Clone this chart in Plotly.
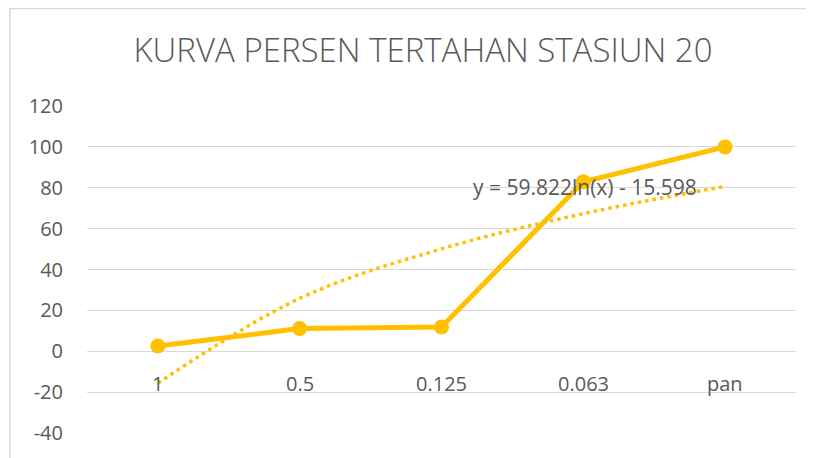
import plotly.graph_objects as go

categories = ["1", "0.5", "0.125", "0.063", "pan"]
persen_tertahan = [2.6, 11.1, 11.9, 82.9, 100]
trend_values = [-15.6, 25.9, 50.1, 67.3, 80.7]
y_ticks = [-40, -20, 0, 20, 40, 60, 80, 100, 120]
y_tick_labels = ["-40", "-20", "0", "20", "40", "60", "80", "100", "120"]
title_text = "KURVA PERSEN TERTAHAN STASIUN 20"
equation_text = "y = 59.822ln(x) - 15.598"

GOLD = "#FFC000"
TXT = "#595959"
GRID = "#D9D9D9"
FONT = "Open Sans"

# The page adds an 8px body margin, so the figure is sized to fill the rest.
OFF = 8
W, H = 814 - OFF, 458 - OFF
L, R, T, B = 87 - OFF, 18, 106 - OFF, 25.3
pw = W - L - R
ph = H - T - B

fig = go.Figure()
fig.add_trace(go.Scatter(
    x=categories, y=persen_tertahan, mode="lines+markers",
    line=dict(color=GOLD, width=5),
    marker=dict(color=GOLD, size=15),
    showlegend=False))
fig.add_trace(go.Scatter(
    x=categories, y=trend_values, mode="lines",
    line=dict(color=GOLD, width=3.5, dash="3.5px,4px", shape="spline"),
    hoverinfo="skip", showlegend=False))

for i, c in enumerate(categories):
    fig.add_annotation(x=i, y=0, xref="x", yref="y", text=c, showarrow=False,
                       yanchor="middle", yshift=-32,
                       font=dict(family=FONT, size=20, color=TXT))

fig.add_annotation(x=3, y=80, xref="x", yref="y", text=equation_text, showarrow=False,
                   xanchor="center", yanchor="middle", xshift=2, yshift=1,
                   font=dict(family=FONT, size=21, color=TXT))

fig.add_shape(type="rect", xref="paper", yref="paper",
              x0=(10 - OFF - L) / pw, x1=1.5, y0=-0.5, y1=1 + (T - 0.5) / ph,
              line=dict(color=GRID, width=1.5), layer="below")

fig.update_layout(
    width=W, height=H,
    margin=dict(l=L, r=R, t=T, b=B),
    paper_bgcolor="white", plot_bgcolor="white",
    title=dict(text=title_text, x=(423 - OFF) / W, xref="container", xanchor="center",
               y=1 - (50 - OFF) / H, yref="container", yanchor="middle",
               font=dict(family=FONT, size=33, color=TXT, weight=300)),
    xaxis=dict(type="category", range=[-0.5, 4.5], showticklabels=False,
               showgrid=False, zeroline=False, showline=False, ticks=""),
    yaxis=dict(range=[-40, 120], tickvals=y_ticks, ticktext=y_tick_labels,
               showgrid=True, gridcolor=GRID,
               gridwidth=1.3, zeroline=False, showline=False, ticks="",
               ticklabelstandoff=23,
               tickfont=dict(family=FONT, size=20, color=TXT)),
)

fig.write_html("out.html")
